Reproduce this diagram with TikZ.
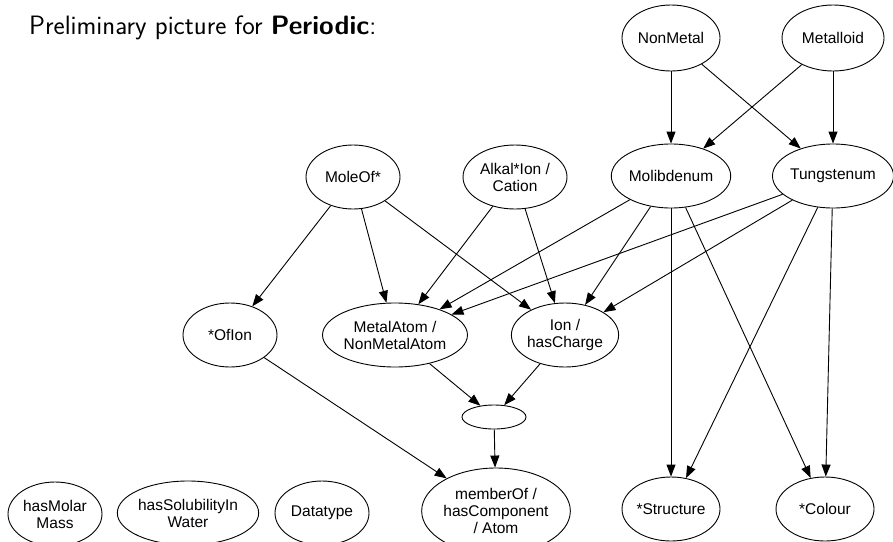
\documentclass[tikz,border=0pt]{standalone}
\usepackage{fontspec}
\setmainfont{Liberation Sans}
\newfontfamily\titlefont{Latin Modern Sans}
\usetikzlibrary{shapes.geometric,arrows.meta}
\tikzset{
  ell/.style={draw, ellipse, line width=0.9pt, inner sep=0pt, align=center,
    font=\fontsize{15.5}{17}\selectfont},
  edge/.style={line width=0.9pt, -{Triangle[length=12pt,width=9pt]}, shorten >=0pt}
}
\begin{document}
\begin{tikzpicture}[x=1pt,y=-1pt]
\useasboundingbox (0,0) rectangle (893,541);
\node[anchor=base west, inner sep=0pt, font=\titlefont\fontsize{26.6}{30}\selectfont] (title) at (29,34) {Preliminary picture for \textbf{Periodic}:};

\node[ell, minimum width=98pt, minimum height=66pt] (nonmetal) at (671,38) {NonMetal};
\node[ell, minimum width=102pt, minimum height=66pt] (metalloid) at (833,38) {Metalloid};
\node[ell, minimum width=116pt, minimum height=64pt] (molib) at (671,176) {Molibdenum};
\node[ell, minimum width=116pt, minimum height=64pt] (tung) at (833,176) {Tungstenum};
\node[ell, minimum width=94pt, minimum height=64pt] (moleof) at (353,177) {MoleOf*};
\node[ell, minimum width=104pt, minimum height=64pt] (alkal) at (515,177) {Alkal*Ion /\\Cation};
\node[ell, minimum width=94pt, minimum height=64pt] (ofion) at (230,335) {*OfIon};
\node[ell, minimum width=136pt, minimum height=64pt] (metalatom) at (395,335) {MetalAtom /\\NonMetalAtom};
\node[ell, minimum width=104pt, minimum height=64pt] (ion) at (565,335) {Ion /\\hasCharge};
\node[ell, minimum width=64pt, minimum height=24pt] (empty) at (494,417) {};
\node[ell, minimum width=142pt, minimum height=86pt] (member) at (496,511) {memberOf /\\hasComponent\\/ Atom};
\node[ell, minimum width=94pt, minimum height=64pt] (molar) at (55,514) {hasMolar\\Mass};
\node[ell, minimum width=138pt, minimum height=64pt] (solub) at (188,513) {hasSolubilityIn\\Water};
\node[ell, minimum width=94pt, minimum height=64pt] (datatype) at (322,513) {Datatype};
\node[ell, minimum width=98pt, minimum height=64pt] (structure) at (671,509) {*Structure};
\node[ell, minimum width=98pt, minimum height=64pt] (colour) at (825,509) {*Colour};

\draw[edge] (nonmetal) -- (molib);
\draw[edge] (nonmetal) -- (tung);
\draw[edge] (metalloid) -- (molib);
\draw[edge] (metalloid) -- (tung);

\draw[edge] (moleof) -- (ofion);
\draw[edge] (moleof) -- (metalatom);
\draw[edge] (moleof) -- (ion);
\draw[edge] (alkal) -- (metalatom);
\draw[edge] (alkal) -- (ion);

\draw[edge] (molib) -- (metalatom);
\draw[edge] (molib) -- (ion);
\draw[edge] (molib) -- (structure);
\draw[edge] (molib) -- (colour);
\draw[edge] (tung) -- (metalatom);
\draw[edge] (tung) -- (ion);
\draw[edge] (tung) -- (structure);
\draw[edge] (tung) -- (colour);

\draw[edge] (metalatom) -- (empty);
\draw[edge] (ion) -- (empty);
\draw[edge] (empty) -- (member);
\draw[edge] (ofion) -- (member);
\end{tikzpicture}
\end{document}
